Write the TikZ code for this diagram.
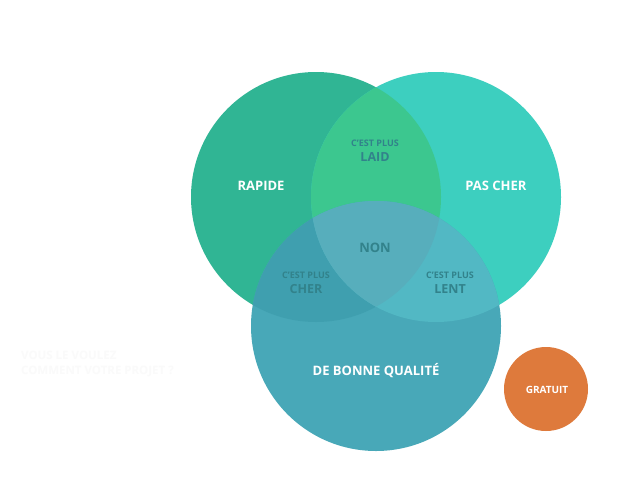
\documentclass[tikz,border=0pt]{standalone}
\usepackage{fontspec}
\setmainfont{Open Sans}
\begin{document}
\begin{tikzpicture}[x=1pt,y=-1pt,
  circ/.style={circle,minimum size=250pt,inner sep=0pt},
  lbl/.style={font=\bfseries\fontsize{13}{13}\selectfont,text=white,inner sep=0pt},
  small/.style={font=\bfseries\fontsize{9}{9}\selectfont,text=darktxt,inner sep=0pt},
  big/.style={font=\bfseries\fontsize{12.5}{13}\selectfont,text=darktxt,inner sep=0pt},
  ghost/.style={font=\bfseries\fontsize{11.5}{12}\selectfont,text=ghostc,inner sep=0pt,anchor=west}]
\definecolor{cA}{HTML}{30B594}
\definecolor{cB}{HTML}{3DCFBF}
\definecolor{cC}{HTML}{48A8B8}
\definecolor{cAB}{HTML}{3CC78F}
\definecolor{cAC}{HTML}{3F9FAF}
\definecolor{cBC}{HTML}{52B8C4}
\definecolor{cABC}{HTML}{57AEBC}
\definecolor{cG}{HTML}{DE7A3C}
\definecolor{darktxt}{HTML}{32828B}
\definecolor{ghostc}{HTML}{FAFAFA}
\useasboundingbox (0,0) rectangle (623,503);
\fill[white] (0,0) rectangle (623,503);
% circles
\node[circ,fill=cA] (rapide) at (316,197) {};
\node[circ,fill=cB] (pascher) at (436,197) {};
\node[circ,fill=cC] (qualite) at (376,326) {};
% intersections
\begin{scope}
  \clip (316,197) circle (125);
  \fill[cAB] (436,197) circle (125);
\end{scope}
\begin{scope}
  \clip (316,197) circle (125);
  \fill[cAC] (376,326) circle (125);
\end{scope}
\begin{scope}
  \clip (436,197) circle (125);
  \fill[cBC] (376,326) circle (125);
\end{scope}
\begin{scope}
  \clip (316,197) circle (125);
  \clip (436,197) circle (125);
  \fill[cABC] (376,326) circle (125);
\end{scope}
\node[circle,minimum size=84pt,inner sep=0pt,fill=cG] (gratuit) at (546,389) {};
% labels
\node[lbl] (lr) at (261,186) {RAPIDE};
\node[lbl] (lp) at (496,186) {PAS CHER};
\node[lbl] (lq) at (376,371) {DE BONNE QUALITÉ};
\node[lbl,font=\bfseries\fontsize{10}{10}\selectfont] (lg) at (547,390) {GRATUIT};
\node[small] (s1) at (375,143) {C’EST PLUS};
\node[big] (b1) at (375,157.5) {LAID};
\node[big,font=\bfseries\fontsize{13}{13}\selectfont] (non) at (375,248) {NON};
\node[small] (s2) at (306,275) {C’EST PLUS};
\node[big] (b2) at (306,289.5) {CHER};
\node[small] (s3) at (450,275) {C’EST PLUS};
\node[big] (b3) at (450,289.5) {LENT};
% faint text
\node[ghost] (g1) at (21,355) {VOUS LE VOULEZ};
\node[ghost] (g2) at (21,372) {COMMENT VOTRE PROJET ?};
\end{tikzpicture}
\end{document}
